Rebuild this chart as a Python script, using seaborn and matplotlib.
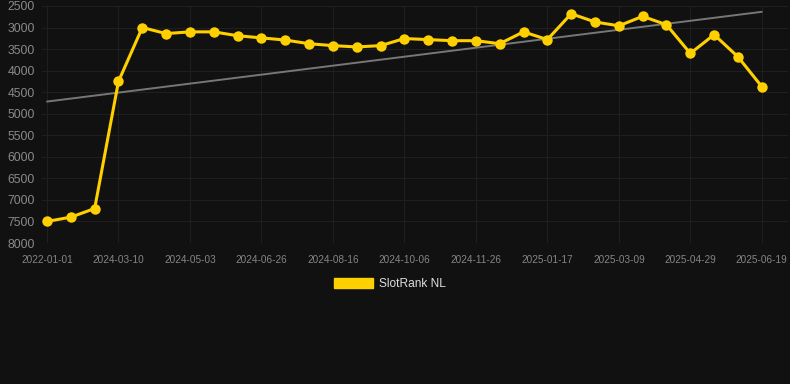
import numpy as np
import pandas as pd
import matplotlib
matplotlib.use("Agg")
import matplotlib.pyplot as plt
from matplotlib.patches import Patch
import seaborn as sns

# ---- data ----
ranks = [7500, 7400, 7200, 4250, 3000, 3140, 3100, 3100, 3190, 3240,
         3290, 3375, 3420, 3450, 3420, 3255, 3280, 3305, 3305, 3375,
         3100, 3280, 2680, 2870, 2960, 2740, 2935, 3600, 3165, 3680, 4370]
tick_labels = ["2022-01-01", "2024-03-10", "2024-05-03", "2024-06-26",
               "2024-08-16", "2024-10-06", "2024-11-26", "2025-01-17",
               "2025-03-09", "2025-04-29", "2025-06-19"]
series_name = "SlotRank NL"
y_ticks = [2500, 3000, 3500, 4000, 4500, 5000, 5500, 6000, 6500, 7000, 7500, 8000]

df = pd.DataFrame({"idx": np.arange(len(ranks)), "rank": ranks})

BG = "#111111"
GOLD = "#FFD000"

sns.set_theme(style="dark")
plt.rcParams["font.family"] = ["Liberation Sans", "DejaVu Sans"]

fig = plt.figure(figsize=(7.9, 3.84), dpi=100, facecolor=BG)
ax = fig.add_axes([42 / 790, 1 - 243 / 384, 746 / 790, 237 / 384])
ax.set_facecolor(BG)

sns.regplot(data=df, x="idx", y="rank", scatter=False, ci=None, ax=ax,
            line_kws=dict(color="#777777", lw=1.4, zorder=2))
sns.lineplot(data=df, x="idx", y="rank", ax=ax, color=GOLD, lw=2.2,
             marker="o", markersize=7.5, markeredgewidth=0, zorder=3)

ax.set_ylim(8000, 2500)
ax.set_yticks(y_ticks)
ax.set_yticklabels([str(v) for v in y_ticks])
ax.set_xlim(-0.21, 31.1)
ax.set_xticks(np.arange(0, len(ranks), 3))
ax.set_xticklabels(tick_labels)
ax.set_xlabel("")
ax.set_ylabel("")

ax.grid(True, color="#1f1f1f", lw=0.8)
for s in ax.spines.values():
    s.set_visible(False)
ax.axhline(8000, color="#2a2a2a", lw=0.8, zorder=1)
ax.tick_params(axis="y", colors="#8a8a8a", labelsize=8.8, length=0, pad=5)
ax.tick_params(axis="x", colors="#858585", labelsize=7.2, length=0, pad=8.5)

handle = Patch(facecolor=GOLD, edgecolor=GOLD, label=series_name)
leg = fig.legend(handles=[handle], loc="center", bbox_to_anchor=(390 / 790, 1 - 284 / 384),
                 frameon=False, fontsize=8.6, handlelength=3.3, handleheight=1.0,
                 handletextpad=0.5, labelcolor="#dddddd")

fig.savefig("out.png", dpi=100, facecolor=BG)
